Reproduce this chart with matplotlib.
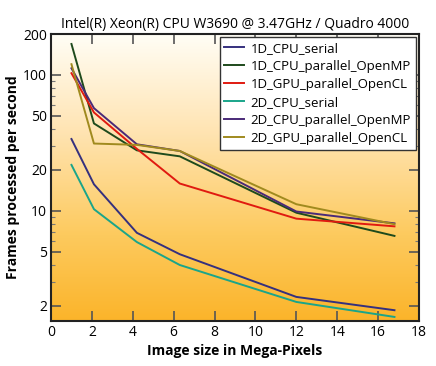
import numpy as np
import matplotlib
matplotlib.use("Agg")
import matplotlib.pyplot as plt
from matplotlib.colors import LinearSegmentedColormap
from matplotlib.ticker import FixedLocator, FixedFormatter, LogLocator, NullFormatter

plt.rcParams['font.family'] = ['Open Sans', 'DejaVu Sans']

# image size in mega-pixels
mpix = [1.0, 2.1, 4.2, 6.3, 12.0, 16.8]

cpu1d_serial = [33.8, 15.7, 6.9, 4.8, 2.33, 1.86]
cpu1d_omp = [169, 44, 27.9, 25.2, 9.7, 6.55]
gpu1d_ocl = [103, 53, 28.6, 15.9, 8.77, 7.7]
cpu2d_serial = [21.8, 10.3, 5.9, 4.0, 2.14, 1.66]
cpu2d_omp = [112, 57, 30.9, 27.6, 9.9, 8.1]
gpu2d_ocl = [120, 31.3, 30.6, 27.6, 11.2, 7.98]

names = ["1D_CPU_serial", "1D_CPU_parallel_OpenMP", "1D_GPU_parallel_OpenCL",
         "2D_CPU_serial", "2D_CPU_parallel_OpenMP", "2D_GPU_parallel_OpenCL"]
series = [cpu1d_serial, cpu1d_omp, gpu1d_ocl, cpu2d_serial, cpu2d_omp, gpu2d_ocl]
colors = ["#35307e", "#1e4a1c", "#e01a10", "#1aa58a", "#4a2a78", "#a08a1e"]

yticks = [2, 5, 10, 20, 50, 100, 200]

fig = plt.figure(figsize=(4.36, 3.66), dpi=100)
ax = fig.add_axes([0.117, 0.123, 0.844, 0.784])

# gradient background
bg = LinearSegmentedColormap.from_list("bg", [(0.0, "#fbb42a"), (0.3, "#fdca5e"),
                                              (0.65, "#ffe3b0"), (1.0, "#fffef6")])
grad = np.linspace(0, 1, 256).reshape(-1, 1)
ax.imshow(grad, cmap=bg, aspect="auto", origin="lower", extent=[0, 1, 0, 1],
          transform=ax.transAxes, zorder=0)

for name, vals, c in zip(names, series, colors):
    ax.plot(mpix, vals, color=c, lw=1.4, label=name, zorder=2)

ax.set_yscale("log")
ax.set_xlim(0, 18)
ax.set_ylim(1.55, 200)
ax.set_xticks(range(0, 19, 2))
ax.yaxis.set_major_locator(FixedLocator(yticks))
ax.yaxis.set_major_formatter(FixedFormatter([str(t) for t in yticks]))
ax.yaxis.set_minor_locator(LogLocator(subs=(3, 4, 6, 7, 8, 9)))
ax.yaxis.set_minor_formatter(NullFormatter())

ax.tick_params(which="major", direction="in", length=7, width=1.2, color="#555555",
               top=True, right=True, labelsize=10, pad=3)
ax.tick_params(which="minor", direction="in", length=3, width=0.8, color="#777777",
               right=True)
for s in ax.spines.values():
    s.set_linewidth(1.5)
    s.set_color("#222222")

ax.set_title("Intel(R) Xeon(R) CPU W3690 @ 3.47GHz / Quadro 4000", fontsize=10, pad=4)
ax.set_xlabel("Image size in Mega-Pixels", fontsize=10, fontweight="bold", labelpad=3)
ax.set_ylabel("Frames processed per second", fontsize=10, fontweight="bold", labelpad=2)

leg = ax.legend(loc="upper right", fontsize=9.5, frameon=True, fancybox=False,
                borderaxespad=0.25, handlelength=1.5, handletextpad=0.5,
                labelspacing=0.38, borderpad=0.35)
leg.get_frame().set_edgecolor("#333333")
leg.get_frame().set_linewidth(1.0)
leg.get_frame().set_facecolor("white")
leg.get_frame().set_alpha(1)

fig.savefig("out.png", dpi=100)
